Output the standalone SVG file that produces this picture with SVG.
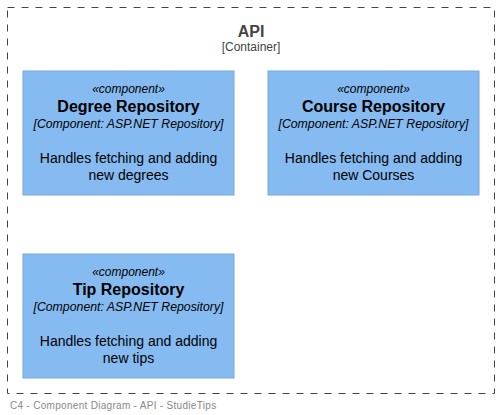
<svg xmlns="http://www.w3.org/2000/svg" width="499" height="415" viewBox="0 0 499 415">
<style>
text{font-family:"Liberation Sans",Arial,sans-serif;text-anchor:middle}
.box{fill:#85BBF0;stroke:#78A8D8;stroke-width:1}
.st{font-size:12px;font-style:italic;fill:#000}
.ti{font-size:16px;font-weight:bold;fill:#000}
.te{font-size:12.3px;font-style:italic;fill:#000}
.de{font-size:14px;fill:#000}
</style>
<rect width="499" height="415" fill="#fff"/>
<g id="api-boundary">
<rect x="7.5" y="7.5" width="487" height="386" fill="none" stroke="#444" stroke-dasharray="7,7"/>
<text x="251" y="37" style="font-size:16px;font-weight:bold;fill:#444">API</text>
<text x="251" y="51" style="font-size:12px;fill:#444">[Container]</text>
</g>
<g id="degree-repository">
<rect class="box" x="23" y="71" width="211" height="124"/>
<text class="st" x="128.5" y="92.5">«component»</text>
<text class="ti" x="128.5" y="112">Degree Repository</text>
<text class="te" x="128.5" y="128">[Component: ASP.NET Repository]</text>
<text class="de" x="128.5" y="163">Handles fetching and adding</text>
<text class="de" x="128.5" y="180">new degrees</text>
</g>
<g id="course-repository">
<rect class="box" x="268" y="71" width="211" height="124"/>
<text class="st" x="373.5" y="92.5">«component»</text>
<text class="ti" x="373.5" y="112">Course Repository</text>
<text class="te" x="373.5" y="128">[Component: ASP.NET Repository]</text>
<text class="de" x="373.5" y="163">Handles fetching and adding</text>
<text class="de" x="373.5" y="180">new Courses</text>
</g>
<g id="tip-repository">
<rect class="box" x="23" y="254" width="211" height="124"/>
<text class="st" x="128.5" y="275.5">«component»</text>
<text class="ti" x="128.5" y="295">Tip Repository</text>
<text class="te" x="128.5" y="311">[Component: ASP.NET Repository]</text>
<text class="de" x="128.5" y="346">Handles fetching and adding</text>
<text class="de" x="128.5" y="363">new tips</text>
</g>
<g id="connectors"></g>
<text x="10" y="409" style="font-size:10px;fill:#888;text-anchor:start;letter-spacing:0.3px">C4 - Component Diagram - API - StudieTips</text>
</svg>
